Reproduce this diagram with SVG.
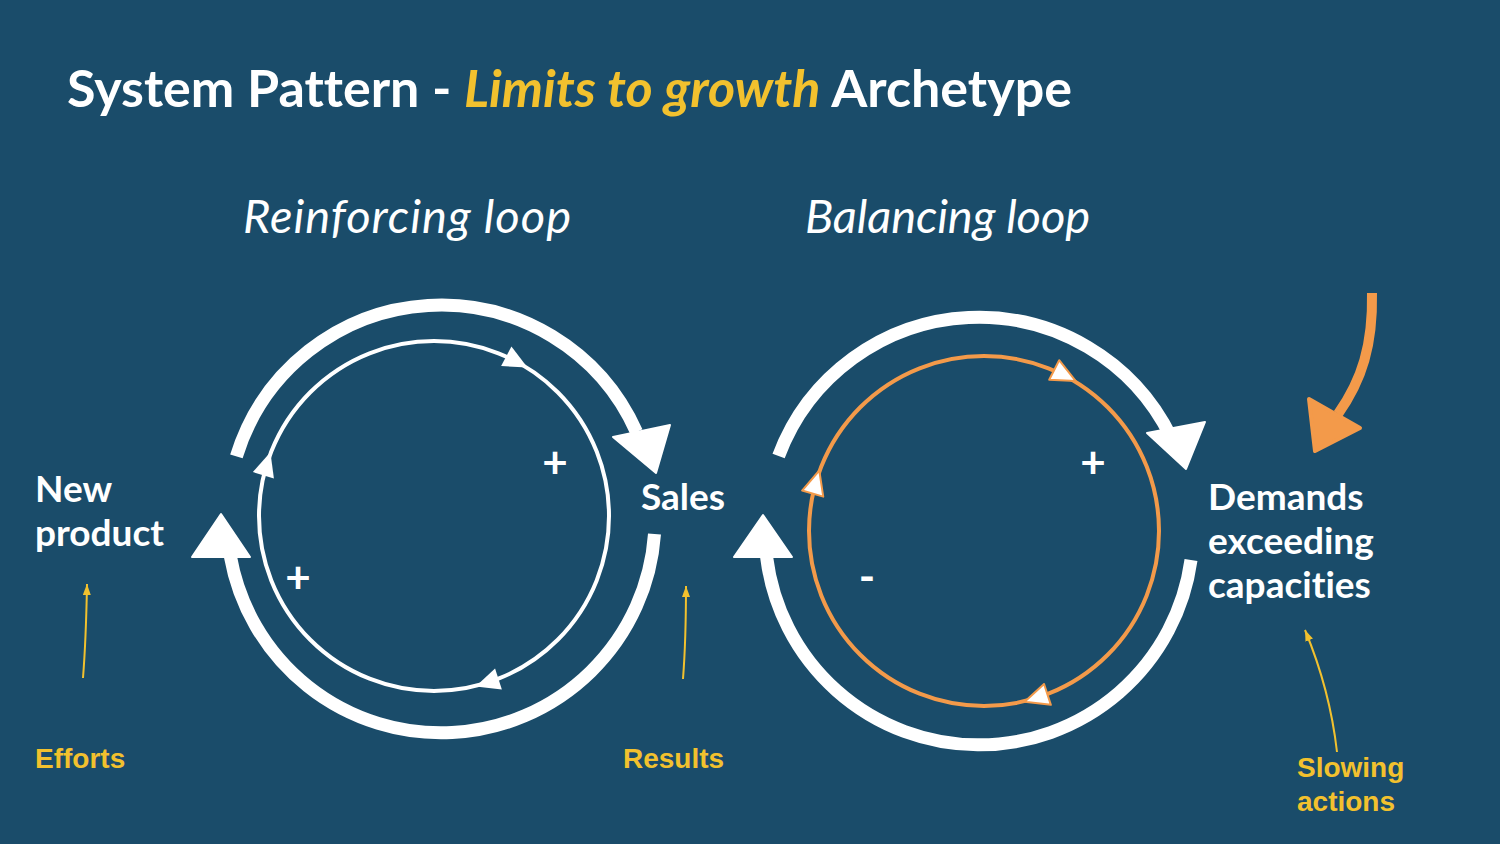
<svg xmlns="http://www.w3.org/2000/svg" width="1500" height="844" viewBox="0 0 1500 844">
<defs>
<style>
.bg{fill:#1a4c6a}
text{font-variant-ligatures:none}
.title{font-family:Lato,"Liberation Sans",sans-serif;font-weight:700;font-size:52px;fill:#ffffff}
.hl{fill:#f2c12e;font-style:italic}
.loop{font-family:Lato,"Liberation Sans",sans-serif;font-style:italic;font-weight:400;font-size:47px;fill:#ffffff}
.node{font-family:Lato,"Liberation Sans",sans-serif;font-weight:700;font-size:37px;fill:#ffffff}
.sign{font-family:Lato,"Liberation Sans",sans-serif;font-weight:700;font-size:44px;fill:#ffffff}
.lab{font-family:"Liberation Sans",Arial,sans-serif;font-weight:700;font-size:28px;fill:#f2c12e}
.big{fill:none;stroke:#ffffff;stroke-width:13}
.inW{fill:none;stroke:#ffffff;stroke-width:4}
.inO{fill:none;stroke:#f39a4a;stroke-width:4}
.headW{fill:#ffffff}
.headO{fill:#ffffff;stroke:#f39a4a;stroke-width:2;stroke-linejoin:round}
.thin{fill:none;stroke:#f2c12e;stroke-width:2}
</style>
<marker id="ya" markerUnits="userSpaceOnUse" markerWidth="12" markerHeight="10" refX="11" refY="4" orient="auto">
<path d="M0,0 L11,4 L0,8 z" fill="#f2c12e"/>
</marker>
<polygon id="tri" points="13,0 -11,-11 -11,11"/>
</defs>
<rect class="bg" x="0" y="0" width="1500" height="844"/>

<g id="title">
<text class="title" x="67" y="107">System Pattern - <tspan class="hl">Limits to growth</tspan> Archetype</text>
</g>
<g id="loop-titles">
<text class="loop" x="243" y="233" textLength="328" lengthAdjust="spacing">Reinforcing loop</text>
<text class="loop" x="805" y="233" textLength="285" lengthAdjust="spacing">Balancing loop</text>
</g>

<g id="connectors">
<!-- left loop outer -->
<path class="big" d="M236.4,456.4 A214,214 0 0 1 636.5,432"/>
<polygon class="headW" points="613,437 670,425 656,473" stroke="#ffffff" stroke-width="2" stroke-linejoin="round"/>
<path class="big" d="M654.5,534 A214,214 0 0 1 230.3,556"/>
<polygon class="headW" points="192,557 250,557 221,514" stroke="#ffffff" stroke-width="2" stroke-linejoin="round"/>
<!-- left loop inner -->
<circle class="inW" cx="434" cy="516" r="175"/>
<use href="#tri" class="headW" transform="translate(516,361.5) rotate(28)"/>
<use href="#tri" class="headW" transform="translate(266.6,464.8) rotate(-73)"/>
<use href="#tri" class="headW" transform="translate(488,682.4) rotate(162)"/>

<!-- right loop outer -->
<path class="big" d="M778.6,456 A214,214 0 0 1 1171,437"/>
<polygon class="headW" points="1147,433 1205,422 1186,469" stroke="#ffffff" stroke-width="2" stroke-linejoin="round"/>
<path class="big" d="M1191,560 A214,214 0 0 1 766.6,557"/>
<polygon class="headW" points="734,557 792,557 763,515" stroke="#ffffff" stroke-width="2" stroke-linejoin="round"/>
<!-- right loop inner -->
<circle class="inO" cx="984" cy="531" r="175"/>
<use href="#tri" class="headO" transform="translate(1064,375) rotate(27)"/>
<use href="#tri" class="headO" transform="translate(815.7,483) rotate(-74)"/>
<use href="#tri" class="headO" transform="translate(1037,697.8) rotate(162)"/>

<!-- big orange arrow -->
<path d="M1372,293 C1373,345 1362,380 1338,414" fill="none" stroke="#f39a4a" stroke-width="10"/>
<polygon points="1309,399 1360,428 1315,451" fill="#f39a4a" stroke="#f39a4a" stroke-width="4" stroke-linejoin="round"/>

<!-- yellow thin arrows -->
<path class="thin" d="M83,678 Q86,640 87,584" marker-end="url(#ya)"/>
<path class="thin" d="M683,679 Q686,640 686,586" marker-end="url(#ya)"/>
<path class="thin" d="M1337,752 Q1330,690 1305,630" marker-end="url(#ya)"/>
</g>

<g id="signs">
<text class="sign" x="555" y="478" text-anchor="middle">+</text>
<text class="sign" x="298" y="593" text-anchor="middle">+</text>
<text class="sign" x="1093" y="478" text-anchor="middle">+</text>
<text class="sign" x="867" y="592" text-anchor="middle">-</text>
</g>

<g id="node-new-product">
<text class="node" x="35" y="502">New</text>
<text class="node" x="35" y="546">product</text>
</g>
<g id="node-sales">
<text class="node" x="641" y="510">Sales</text>
</g>
<g id="node-demands">
<text class="node" x="1208" y="510">Demands</text>
<text class="node" x="1208" y="554">exceeding</text>
<text class="node" x="1208" y="598">capacities</text>
</g>
<g id="label-efforts"><text class="lab" x="35" y="768">Efforts</text></g>
<g id="label-results"><text class="lab" x="623" y="768">Results</text></g>
<g id="label-slowing">
<text class="lab" x="1297" y="777">Slowing</text>
<text class="lab" x="1297" y="811">actions</text>
</g>
</svg>
